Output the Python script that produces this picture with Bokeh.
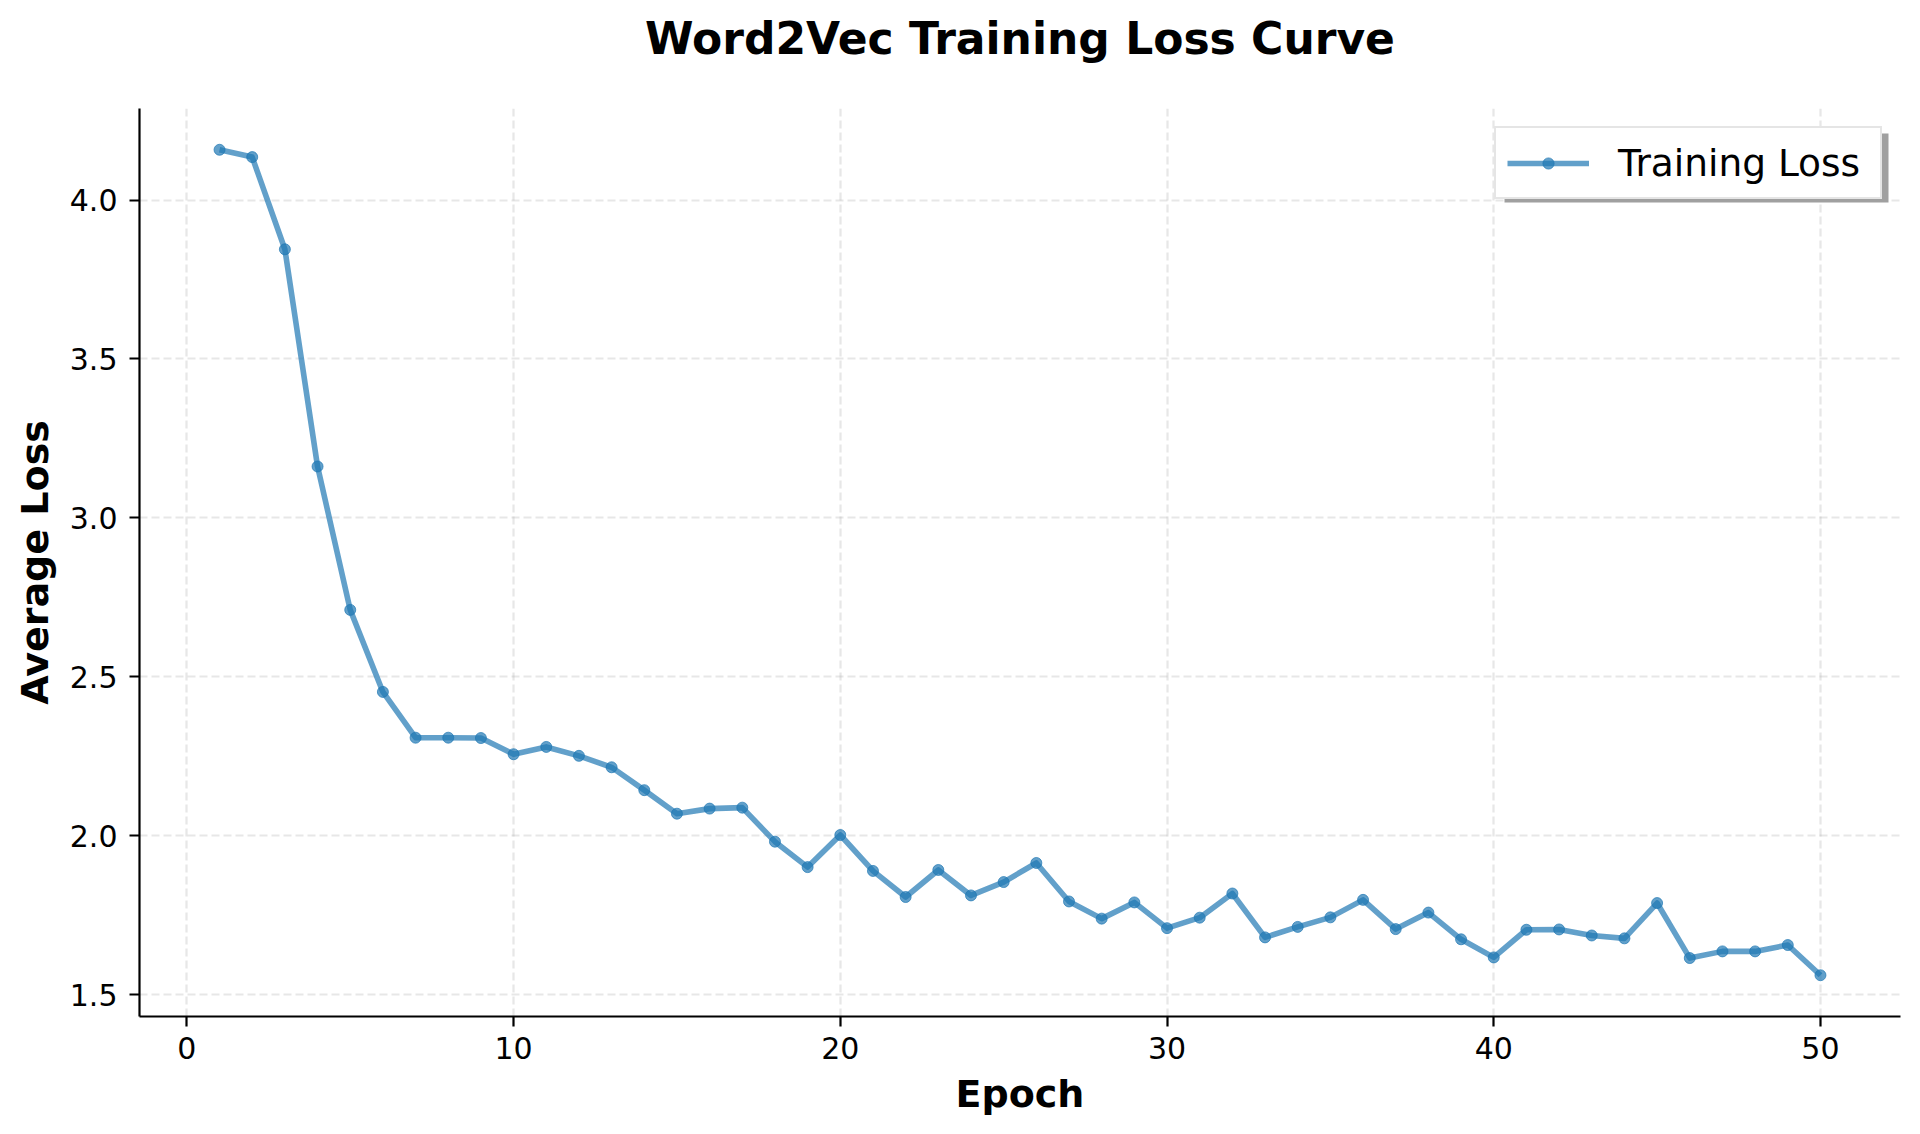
from bokeh.plotting import figure
from bokeh.models import (Range1d, FixedTicker, PrintfTickFormatter, Legend, LegendItem,
                          BoxAnnotation, Title)
from bokeh.embed import file_html
from bokeh.resources import INLINE

# ---- data ----
epochs = [1, 2, 3, 4, 5, 6, 7, 8, 9, 10,
          11, 12, 13, 14, 15, 16, 17, 18, 19, 20,
          21, 22, 23, 24, 25, 26, 27, 28, 29, 30,
          31, 32, 33, 34, 35, 36, 37, 38, 39, 40,
          41, 42, 43, 44, 45, 46, 47, 48, 49, 50]
loss = [4.158, 4.135, 3.845, 3.162, 2.711, 2.453, 2.309, 2.309, 2.308, 2.257,
        2.280, 2.252, 2.216, 2.144, 2.070, 2.086, 2.089, 1.982, 1.902, 2.003,
        1.890, 1.808, 1.893, 1.813, 1.855, 1.915, 1.794, 1.740, 1.791, 1.710,
        1.743, 1.819, 1.681, 1.714, 1.744, 1.799, 1.707, 1.759, 1.675, 1.618,
        1.705, 1.706, 1.687, 1.678, 1.789, 1.616, 1.637, 1.637, 1.657, 1.562]
x_ticks = [0, 10, 20, 30, 40, 50]
y_ticks = [1.5, 2.0, 2.5, 3.0, 3.5, 4.0]
title_text = "Word2Vec Training Loss Curve"
x_label = "Epoch"
y_label = "Average Loss"
series_label = "Training Loss"

# ---- ranges with 5% margins ----
xmin, xmax = min(epochs), max(epochs)
ymin, ymax = min(loss), max(loss)
xm = (xmax - xmin) * 0.05
ym = (ymax - ymin) * 0.05

FONT = "DejaVu Sans"
BLUE = "#1f77b4"

W, H = 1904, 1126
BL, BR, BT, BB = 139, 4, 108, 110
FW = W - BL - BR
FH = H - BT - BB

p = figure(width=W, height=H, output_backend="svg", toolbar_location=None,
           x_range=Range1d(xmin - xm, xmax + xm), y_range=Range1d(ymin - ym, ymax + ym),
           min_border_left=BL, min_border_right=BR, min_border_top=BT, min_border_bottom=BB)
p.outline_line_color = None
p.background_fill_color = "white"
p.border_fill_color = "white"

# spacer panel between the frame and the title (lifts the title)
spacer = Title(text=" ", text_font_size="10px", standoff=32)
p.add_layout(spacer, "above")

# title
p.title.text = title_text
p.title.text_font = FONT
p.title.text_font_size = "44px"
p.title.text_font_style = "bold"
p.title.text_color = "black"
p.title.align = "center"
p.title.standoff = 0

# axes
for ax in (p.xaxis[0], p.yaxis[0]):
    ax.axis_line_width = 2.2
    ax.axis_line_color = "black"
    ax.major_tick_line_width = 2.2
    ax.major_tick_line_color = "black"
    ax.major_tick_out = 10
    ax.major_tick_in = 0
    ax.minor_tick_line_color = None
    ax.major_label_text_font = FONT
    ax.major_label_text_font_size = "30px"
    ax.major_label_text_color = "black"
    ax.axis_label_text_font = FONT
    ax.axis_label_text_font_size = "38px"
    ax.axis_label_text_font_style = "bold"
    ax.axis_label_text_color = "black"

p.xaxis[0].axis_label = x_label
p.yaxis[0].axis_label = y_label
p.xaxis[0].ticker = FixedTicker(ticks=x_ticks)
p.yaxis[0].ticker = FixedTicker(ticks=y_ticks)
p.yaxis[0].formatter = PrintfTickFormatter(format="%.1f")
p.xaxis[0].major_label_standoff = 10
p.yaxis[0].major_label_standoff = 12
p.xaxis[0].axis_label_standoff = 10
p.yaxis[0].axis_label_standoff = 10

# grid
for g in (p.xgrid[0], p.ygrid[0]):
    g.grid_line_color = "#b0b0b0"
    g.grid_line_alpha = 0.3
    g.grid_line_width = 2.2
    g.grid_line_dash = "8 4"

# data
ln = p.line(epochs, loss, line_color=BLUE, line_width=5.6, line_alpha=0.7, line_join="round")
sc = p.scatter(epochs, loss, size=11, fill_color=BLUE, line_color=BLUE, fill_alpha=0.7,
               line_alpha=0.7, line_width=1)

# legend geometry
LM = 18           # margin from frame
LW, LH = 384, 69  # legend box size
SDX, SDY = 6, 7   # shadow offset
shadow = BoxAnnotation(left=FW - LM - LW + SDX, right=FW - LM + SDX,
                       top=FH - LM - SDY, bottom=FH - LM - LH - SDY,
                       left_units="screen", right_units="screen",
                       top_units="screen", bottom_units="screen",
                       fill_color="#a0a0a0", fill_alpha=1.0, line_color=None)
p.add_layout(shadow)

legend = Legend(items=[LegendItem(label=series_label, renderers=[ln, sc])],
                location="top_right", margin=LM, padding=11, spacing=0,
                glyph_width=82, glyph_height=28, label_standoff=29,
                label_width=251, label_height=47,
                label_text_font=FONT, label_text_font_size="37.5px", label_text_color="black",
                border_line_color="#cccccc", border_line_width=2,
                background_fill_color="white", background_fill_alpha=1.0)
p.add_layout(legend, "center")

open("out.html", "w").write(file_html(p, INLINE))
